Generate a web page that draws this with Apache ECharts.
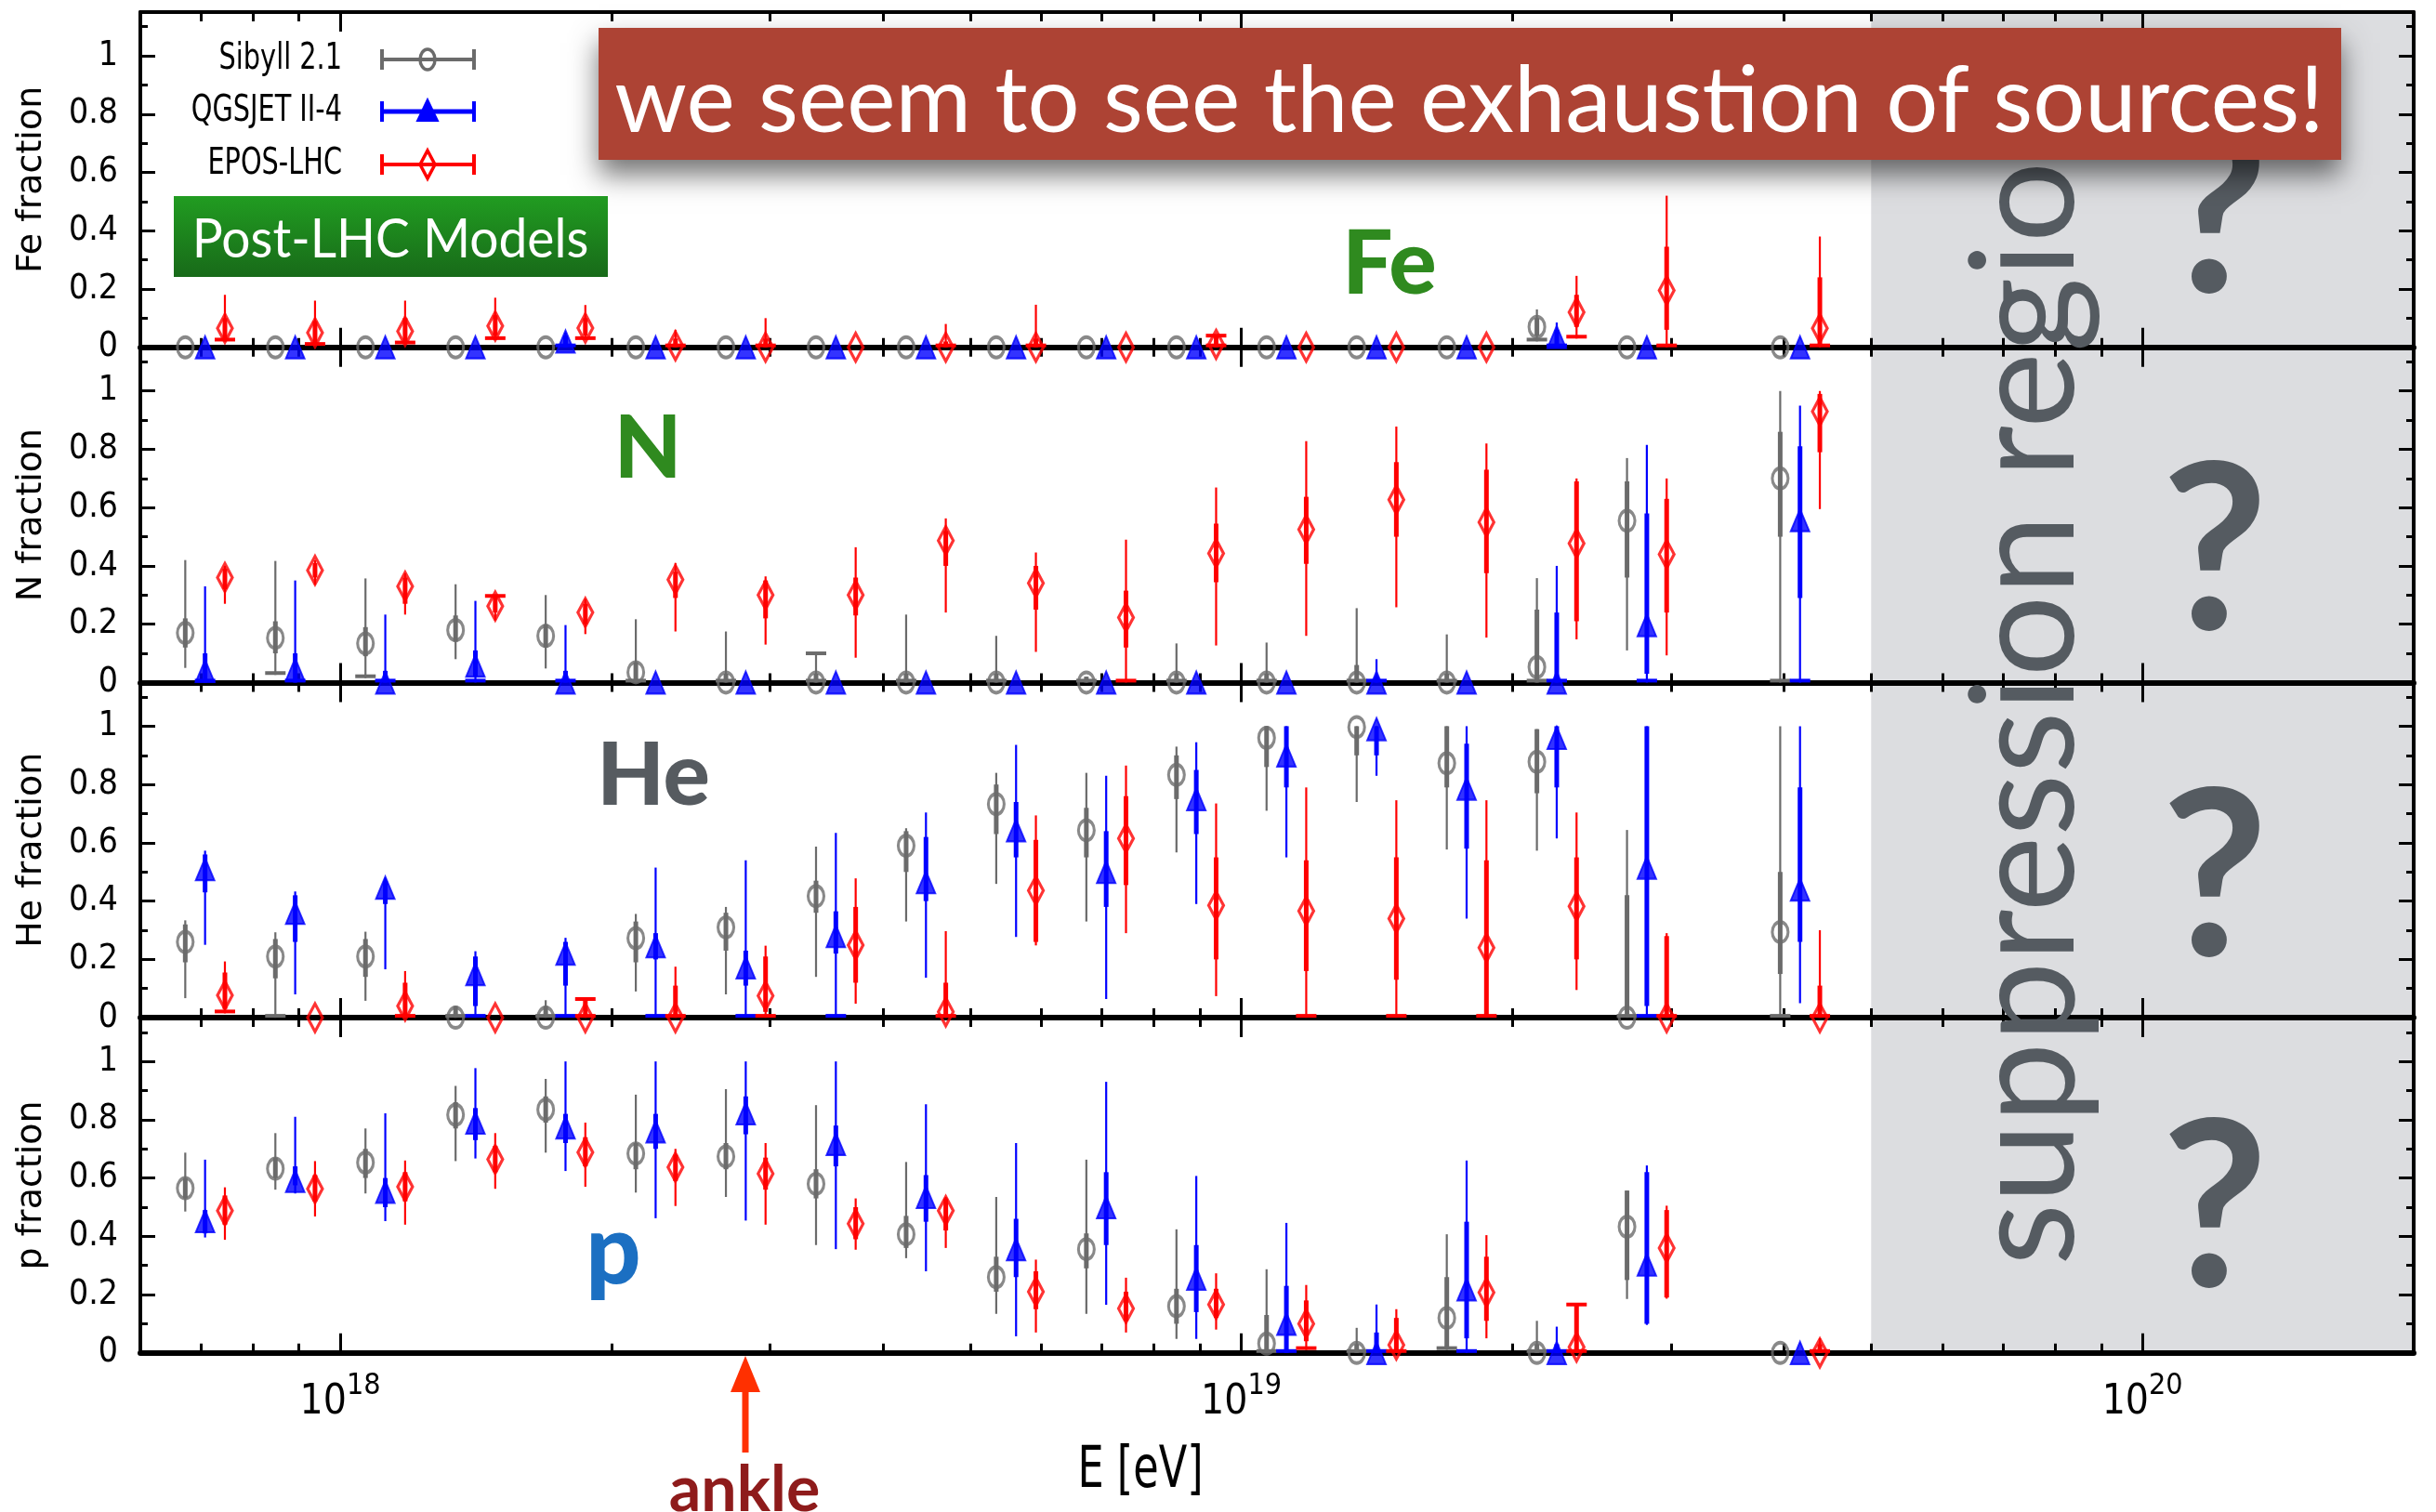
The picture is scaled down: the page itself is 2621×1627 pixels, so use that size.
<!DOCTYPE html>
<html>
<head>
<meta charset="utf-8">
<script src="https://cdn.jsdelivr.net/npm/echarts@6/dist/echarts.min.js"></script>
<style>
  html, body { margin: 0; padding: 0; background: #ffffff; }
  #chart { width: 2621px; height: 1627px; }
</style>
</head>
<body>
<div id="chart"></div>
<script>
// ---- energy bins: log10(E / eV) of each bin centre ----
const logE = [17.85, 17.95, 18.05, 18.15, 18.25, 18.35, 18.45, 18.55, 18.65,
              18.75, 18.85, 18.95, 19.05, 19.15, 19.25, 19.35, 19.45, 19.62];

const modelNames = ['Sibyll 2.1', 'QGSJET II-4', 'EPOS-LHC'];
const panelNames = ['Fe', 'N', 'He', 'p'];

// x tick labels (decades) and y ticks
const xDecades = [18, 19, 20];
const yMajor = [0, 0.2, 0.4, 0.6, 0.8, 1];
const yMinor = [0.1, 0.3, 0.5, 0.7, 0.9, 1.1];

// each point: [fraction, outer low, outer high, inner low, inner high]
const feSibyll = [
  [0,0,0,0,0],[0,0,0,0,0],[0,0,0,0,0],[0,0,0,0,0],[0,0,0,0,0],[0,0,0,0,0],
  [0,0,0,0,0],[0,0,0,0,0],[0,0,0,0,0],[0,0,0,0,0],[0,0,0,0,0],[0,0,0,0,0],
  [0,0,0,0,0],[0,0,0,0,0],[0,0,0,0,0],[0.07,0.02,0.13,0.04,0.10],[0,0,0,0,0],[0,0,0,0,0]
];
const feQgsjet = [
  [0,0,0,0,0],[0,0,0,0,0],[0,0,0,0,0],[0,0,0,0,0],[0.02,0,0.05,0,0.04],[0,0,0,0,0],
  [0,0,0,0,0],[0,0,0,0,0],[0,0,0,0,0],[0,0,0,0,0],[0,0,0,0,0],[0,0,0,0,0],
  [0,0,0,0,0],[0,0,0,0,0],[0,0,0,0,0],[0.035,0,0.085,0,0.06],[0,0,0,0,0],[0,0,0,0,0]
];
const feEpos = [
  [0.065,0.02,0.18,0.03,0.10],[0.05,0.005,0.16,0.01,0.09],[0.055,0.01,0.16,0.02,0.10],
  [0.073,0.025,0.17,0.04,0.11],[0.066,0.025,0.145,0.04,0.10],[0.005,0,0.06,0,0.03],
  [0,0,0.10,0,0.03],[0,0,0,0,0],[0,0,0.08,0,0.02],
  [0,0,0.146,0,0.03],[0,0,0,0,0],[0.01,0,0.04,0,0.04],
  [0,0,0,0,0],[0,0,0,0,0],[0,0,0,0,0],
  [0.12,0.03,0.245,0.07,0.18],[0.195,0,0.52,0.06,0.345],[0.065,0,0.38,0.01,0.24]
];

const nSibyll = [
  [0.17,0.05,0.42,0.12,0.22],[0.153,0.026,0.417,0.10,0.21],[0.134,0.015,0.357,0.09,0.19],
  [0.18,0.08,0.337,0.14,0.23],[0.16,0.048,0.30,0.12,0.20],[0.035,0,0.217,0,0.07],
  [0,0,0.175,0,0.03],[0,0,0.10,0,0.03],[0,0,0.233,0,0.03],
  [0,0,0.16,0,0.03],[0,0,0.02,0,0.02],[0,0,0.134,0,0.03],
  [0,0,0.137,0,0.03],[0,0,0.255,0,0.06],[0,0,0.165,0,0.03],
  [0.053,0,0.358,0,0.25],[0.555,0.11,0.77,0.36,0.69],[0.70,0,1.0,0.50,0.86]
];
const nQgsjet = [
  [0.04,0,0.33,0,0.10],[0.045,0,0.35,0,0.10],[0,0,0.233,0,0.04],
  [0.058,0,0.28,0.02,0.11],[0,0,0.197,0,0.04],[0,0,0,0,0],
  [0,0,0,0,0],[0,0,0,0,0],[0,0,0,0,0],
  [0,0,0,0,0],[0,0,0,0,0],[0,0,0,0,0],
  [0,0,0,0,0],[0,0,0.08,0,0.02],[0,0,0,0,0],
  [0,0,0.40,0,0.24],[0.197,0,0.815,0.03,0.58],[0.557,0,0.95,0.29,0.81]
];
const nEpos = [
  [0.36,0.27,0.40,0.32,0.39],[0.385,0.335,0.42,0.36,0.41],[0.33,0.233,0.375,0.27,0.36],
  [0.262,0.213,0.297,0.24,0.297],[0.24,0.166,0.287,0.20,0.27],[0.353,0.175,0.41,0.29,0.38],
  [0.30,0.13,0.364,0.22,0.35],[0.30,0.085,0.464,0.23,0.36],[0.487,0.24,0.563,0.40,0.52],
  [0.341,0.105,0.446,0.25,0.40],[0.223,0,0.49,0.12,0.315],[0.443,0.127,0.669,0.344,0.545],
  [0.525,0.16,0.828,0.407,0.637],[0.627,0.258,0.878,0.50,0.756],[0.55,0.154,0.82,0.375,0.73],
  [0.477,0.148,0.70,0.21,0.69],[0.44,0.093,0.70,0.24,0.63],[0.93,0.595,1.0,0.79,0.99]
];

const heSibyll = [
  [0.26,0.067,0.334,0.19,0.32],[0.21,0,0.293,0.135,0.27],[0.21,0.058,0.295,0.14,0.27],
  [0,0,0.04,0,0.04],[0,0,0.06,0,0.04],[0.273,0.09,0.356,0.19,0.33],
  [0.31,0.08,0.38,0.23,0.36],[0.417,0.14,0.587,0.36,0.47],[0.59,0.33,0.65,0.50,0.64],
  [0.733,0.459,0.84,0.63,0.80],[0.643,0.33,0.84,0.55,0.72],[0.833,0.567,0.93,0.75,0.90],
  [0.96,0.71,1.0,0.86,1.0],[0.997,0.74,1.0,0.90,1.0],[0.873,0.577,1.0,0.79,1.0],
  [0.878,0.573,0.99,0.77,0.99],[0,0,0.644,0,0.42],[0.294,0,1.0,0.15,0.50]
];
const heQgsjet = [
  [0.51,0.25,0.573,0.43,0.56],[0.36,0.08,0.433,0.26,0.42],[0.446,0.166,0.48,0.39,0.47],
  [0.15,0,0.228,0.04,0.21],[0.22,0,0.274,0.11,0.26],[0.245,0,0.515,0.20,0.29],
  [0.173,0,0.54,0.11,0.23],[0.28,0,0.634,0.22,0.365],[0.465,0.137,0.704,0.40,0.62],
  [0.643,0.277,0.936,0.55,0.74],[0.50,0.064,0.83,0.38,0.64],[0.75,0.39,0.945,0.63,0.85],
  [0.90,0.55,1.0,0.79,1.0],[0.99,0.83,1.0,0.90,1.0],[0.786,0.34,1.0,0.58,0.94],
  [0.96,0.615,1.0,0.79,1.0],[0.515,0,1.0,0.04,1.0],[0.44,0.05,1.0,0.26,0.79]
];
const heEpos = [
  [0.077,0.015,0.193,0.03,0.155],[0,0,0,0,0],[0.04,0,0.16,0,0.12],
  [0,0,0,0,0],[0,0,0.064,0,0.064],[0,0,0.175,0,0.11],
  [0.075,0,0.247,0.02,0.21],[0.249,0.048,0.478,0.12,0.38],[0.02,0,0.297,0,0.12],
  [0.436,0.248,0.694,0.26,0.61],[0.615,0.29,0.865,0.455,0.76],[0.385,0.074,0.735,0.20,0.55],
  [0.366,0,0.79,0.16,0.54],[0.34,0,0.746,0.13,0.55],[0.24,0,0.746,0,0.54],
  [0.382,0.095,0.704,0.20,0.55],[0,0,0.29,0,0.28],[0,0,0.30,0,0.11]
];

const pSibyll = [
  [0.565,0.485,0.687,0.53,0.60],[0.632,0.56,0.754,0.60,0.67],[0.653,0.547,0.77,0.60,0.70],
  [0.817,0.658,0.916,0.77,0.86],[0.835,0.687,0.94,0.79,0.88],[0.684,0.55,0.886,0.63,0.72],
  [0.674,0.535,0.905,0.63,0.72],[0.58,0.37,0.85,0.53,0.63],[0.407,0.325,0.655,0.36,0.47],
  [0.26,0.134,0.535,0.21,0.33],[0.356,0.134,0.663,0.29,0.41],[0.16,0.048,0.424,0.10,0.22],
  [0.032,0,0.287,0,0.13],[0,0,0.086,0,0.03],[0.12,0.01,0.407,0.02,0.26],
  [0,0,0.11,0,0.03],[0.433,0.185,0.557,0.25,0.557],[0,0,0,0,0]
];
const pQgsjet = [
  [0.452,0.396,0.663,0.41,0.49],[0.59,0.547,0.81,0.575,0.64],[0.553,0.452,0.822,0.50,0.60],
  [0.79,0.667,0.977,0.73,0.84],[0.774,0.624,1.0,0.72,0.82],[0.76,0.462,1.0,0.70,0.82],
  [0.822,0.454,1.0,0.75,0.88],[0.717,0.356,1.0,0.64,0.78],[0.535,0.28,0.853,0.45,0.61],
  [0.356,0.057,0.72,0.26,0.46],[0.50,0.165,0.93,0.37,0.62],[0.255,0.048,0.607,0.14,0.37],
  [0.10,0,0.446,0,0.23],[0,0,0.166,0,0.07],[0.218,0,0.66,0.05,0.45],
  [0,0,0.09,0,0.03],[0.303,0.096,0.643,0.10,0.62],[0,0,0,0,0]
];
const pEpos = [
  [0.488,0.388,0.568,0.44,0.54],[0.563,0.468,0.658,0.52,0.61],[0.57,0.44,0.66,0.52,0.62],
  [0.664,0.563,0.754,0.62,0.71],[0.688,0.57,0.79,0.64,0.74],[0.637,0.504,0.70,0.59,0.68],
  [0.615,0.44,0.72,0.56,0.67],[0.443,0.354,0.53,0.39,0.50],[0.488,0.36,0.535,0.42,0.53],
  [0.21,0.07,0.32,0.15,0.28],[0.152,0.07,0.258,0.11,0.21],[0.166,0.08,0.273,0.12,0.22],
  [0.10,0.01,0.233,0.04,0.18],[0.027,0,0.15,0,0.12],[0.207,0.05,0.404,0.11,0.33],
  [0.02,0,0.166,0,0.166],[0.36,0.186,0.505,0.19,0.49],[0,0,0.05,0,0.03]
];

// bins whose upper error bar ends in a cap, per panel and model
const upperCapBins = [
  [[], [], [11]],
  [[7], [], [3]],
  [[], [], [4]],
  [[], [], [15]]
];

const panelSeries = [
  [feSibyll, feQgsjet, feEpos],
  [nSibyll, nQgsjet, nEpos],
  [heSibyll, heQgsjet, heEpos],
  [pSibyll, pQgsjet, pEpos]
];

// ---- axis ranges ----
const XMIN = Math.log10(6e17);
const XMAX = Math.log10(2e20);
const XSUPPRESSION = Math.log10(5e19);
const YMAX = 1.15;

const xMinor = [];
for (let d = 17; d <= 20; d++) {
  for (let m = 2; m <= 9; m++) {
    const v = d + Math.log10(m);
    if (v > XMIN && v < XMAX) xMinor.push(v);
  }
}

// ---- look ----
const NARROW = "'Liberation Sans Narrow','DejaVu Sans Condensed','Roboto Condensed',sans-serif";
const HUMANIST = "Lato,'Open Sans','Noto Sans',sans-serif";
const MODEL_COLORS = ['#6b6b6b', '#0000ff', '#ff0000'];
const MODEL_SHIFT = [-0.022, 0, 0.022];   // side-by-side placement inside a bin (decades)
const SLATE = '#555b61';

const GRID_LEFT = 151, GRID_WIDTH = 2446, GRID_TOP = 13, PANEL_H = 360.7;

const grids = [], xAxes = [], yAxes = [], series = [];

function tick(len, values, show) {
  return { show: show !== false, inside: true, length: len, customValues: values,
           lineStyle: { color: '#000', width: 3 } };
}

panelNames.forEach((name, i) => {
  grids.push({ left: GRID_LEFT, width: GRID_WIDTH, top: GRID_TOP + i * PANEL_H, height: PANEL_H });

  const xBase = { type: 'value', gridIndex: i, min: XMIN, max: XMAX,
                  splitLine: { show: false }, axisLabel: { show: false },
                  axisLine: { show: false, onZero: false } };
  xAxes.push(Object.assign({}, xBase, {
    position: 'bottom',
    axisLine: { show: true, onZero: false, lineStyle: { color: '#000', width: 6 } },
    axisTick: tick(21, xDecades),
    axisLabel: i === 3 ? {
      show: true, customValues: xDecades, margin: 20,
      formatter: v => '{b|10}{s|' + Math.round(v) + '}',
      rich: {
        b: { fontFamily: NARROW, fontSize: 44, color: '#000', lineHeight: 56, verticalAlign: 'bottom' },
        s: { fontFamily: NARROW, fontSize: 32, color: '#000', lineHeight: 56, verticalAlign: 'top' }
      }
    } : { show: false }
  }));
  xAxes.push(Object.assign({}, xBase, { position: 'bottom', axisTick: tick(10, xMinor) }));
  xAxes.push(Object.assign({}, xBase, {
    position: 'top',
    axisLine: { show: i === 0, onZero: false, lineStyle: { color: '#000', width: 4 } },
    axisTick: tick(21, xDecades)
  }));
  xAxes.push(Object.assign({}, xBase, { position: 'top', axisTick: tick(10, xMinor) }));

  const yBase = { type: 'value', gridIndex: i, min: 0, max: YMAX,
                  splitLine: { show: false }, axisLabel: { show: false },
                  axisLine: { show: false, onZero: false } };
  yAxes.push(Object.assign({}, yBase, {
    position: 'left',
    axisLine: { show: true, onZero: false, lineStyle: { color: '#000', width: 4 } },
    axisTick: tick(16, yMajor),
    axisLabel: { show: true, customValues: yMajor, margin: 24,
                 formatter: v => String(Math.round(v * 10) / 10),
                 fontFamily: NARROW, fontSize: 37, color: '#000' },
    name: name + ' fraction', nameLocation: 'middle', nameGap: 98,
    nameTextStyle: { fontFamily: "'DejaVu Sans',sans-serif", fontSize: 38, color: '#000' }
  }));
  yAxes.push(Object.assign({}, yBase, { position: 'left', axisTick: tick(8, yMinor) }));
  yAxes.push(Object.assign({}, yBase, {
    position: 'right',
    axisLine: { show: true, onZero: false, lineStyle: { color: '#000', width: 4 } },
    axisTick: tick(16, yMajor)
  }));
  yAxes.push(Object.assign({}, yBase, { position: 'right', axisTick: tick(8, yMinor) }));

  const xi = 4 * i, yi = 4 * i;

  // shaded suppression region, beneath the axes
  series.push({
    type: 'custom', xAxisIndex: xi, yAxisIndex: yi, z: -1, silent: true,
    data: [[XSUPPRESSION, 0]],
    renderItem: (params, api) => {
      const a = api.coord([XSUPPRESSION, YMAX]);
      const b = api.coord([XMAX, 0]);
      return { type: 'rect', shape: { x: a[0], y: a[1], width: b[0] - a[0], height: b[1] - a[1] },
               style: { fill: '#dcdde0' } };
    }
  });

  panelSeries[i].forEach((points, m) => {
    const color = MODEL_COLORS[m];
    const caps = upperCapBins[i][m];
    const barData = points.map((p, k) => [logE[k] + MODEL_SHIFT[m], p[0], p[1], p[2], p[3], p[4],
                                          caps.indexOf(k) >= 0 ? 1 : 0]);
    series.push({
      type: 'custom', name: modelNames[m], xAxisIndex: xi, yAxisIndex: yi, silent: true, z: 2,
      data: barData,
      renderItem: (params, api) => {
        const x = api.value(0), lo = api.value(2), hi = api.value(3);
        const ilo = api.value(4), ihi = api.value(5), capTop = api.value(6);
        const kids = [];
        const capHalf = 11;
        if (hi > lo) {
          const a = api.coord([x, lo]), b = api.coord([x, hi]);
          kids.push({ type: 'line', shape: { x1: a[0], y1: a[1], x2: b[0], y2: b[1] },
                      style: { stroke: color, lineWidth: 2.2 } });
          if (lo <= 0.03) {
            kids.push({ type: 'line', shape: { x1: a[0] - capHalf, y1: a[1] - 2, x2: a[0] + capHalf, y2: a[1] - 2 },
                        style: { stroke: color, lineWidth: 4 } });
          }
          if (capTop) {
            kids.push({ type: 'line', shape: { x1: b[0] - capHalf, y1: b[1], x2: b[0] + capHalf, y2: b[1] },
                        style: { stroke: color, lineWidth: 4 } });
          }
        }
        if (ihi > ilo) {
          const a = api.coord([x, ilo]), b = api.coord([x, ihi]);
          kids.push({ type: 'line', shape: { x1: a[0], y1: a[1], x2: b[0], y2: b[1] },
                      style: { stroke: color, lineWidth: 5 } });
        }
        return { type: 'group', children: kids };
      }
    });

    const markerStyle = [
      { symbol: 'circle', symbolSize: [17, 22],
        itemStyle: { color: 'rgba(0,0,0,0)', borderColor: color, borderWidth: 3.5 } },
      { symbol: 'triangle', symbolSize: [20, 24],
        itemStyle: { color: color, borderColor: color, borderWidth: 2 } },
      { symbol: 'diamond', symbolSize: [16, 30],
        itemStyle: { color: 'rgba(0,0,0,0)', borderColor: color, borderWidth: 3.5 } }
    ][m];
    series.push(Object.assign({
      type: 'scatter', name: modelNames[m], xAxisIndex: xi, yAxisIndex: yi, z: 3, clip: false,
      silent: true, emphasis: { disabled: true },
      data: points.map((p, k) => [logE[k] + MODEL_SHIFT[m], p[0]])
    }, markerStyle));
  });
});

// ---- overlay texts and shapes ----
const graphics = [];

// legend: text on the left, error-bar glyph on the right
const legendRows = [64, 120, 177];
modelNames.forEach((label, m) => {
  const y = legendRows[m], c = MODEL_COLORS[m];
  graphics.push({ type: 'text', x: 368, y: y, z: 5, scaleX: 0.82,
    style: { text: label, font: '39px ' + NARROW, fill: '#000', align: 'right', verticalAlign: 'middle' } });
  const lw = m === 1 ? 5 : 4;
  graphics.push({ type: 'line', z: 5, shape: { x1: 411, y1: y, x2: 510, y2: y }, style: { stroke: c, lineWidth: lw } });
  graphics.push({ type: 'line', z: 5, shape: { x1: 411, y1: y - 11, x2: 411, y2: y + 11 }, style: { stroke: c, lineWidth: 4 } });
  graphics.push({ type: 'line', z: 5, shape: { x1: 510, y1: y - 11, x2: 510, y2: y + 11 }, style: { stroke: c, lineWidth: 4 } });
  if (m === 0) {
    graphics.push({ type: 'ellipse', z: 6, shape: { cx: 460, cy: y, rx: 8, ry: 11 },
      style: { fill: 'none', stroke: c, lineWidth: 3.5 } });
  } else if (m === 1) {
    graphics.push({ type: 'polygon', z: 6, shape: { points: [[460, y - 13], [449, y + 10], [471, y + 10]] },
      style: { fill: c, stroke: c, lineWidth: 2 } });
  } else {
    graphics.push({ type: 'polygon', z: 6, shape: { points: [[460, y - 15], [468, y], [460, y + 15], [452, y]] },
      style: { fill: 'none', stroke: c, lineWidth: 3.5 } });
  }
});

// "Post-LHC Models" tag
graphics.push({ type: 'rect', z: 5, shape: { x: 187, y: 211, width: 467, height: 87 },
  style: { fill: new echarts.graphic.LinearGradient(0, 0, 0, 1,
            [{ offset: 0, color: '#219c21' }, { offset: 1, color: '#186a19' }]) } });
graphics.push({ type: 'text', x: 420, y: 258, z: 6, scaleX: 0.95,
  style: { text: 'Post-LHC Models', font: '58px ' + HUMANIST, fill: '#ffffff',
           align: 'center', verticalAlign: 'middle',
           shadowBlur: 4, shadowColor: 'rgba(0,0,0,0.6)', shadowOffsetY: 2 } });

// element labels inside each panel
const elementLabels = [
  { t: 'Fe', x: 1495, y: 285, c: '#2f8a1f', s: 96 },
  { t: 'N',  x: 697,  y: 484, c: '#2f8a1f', s: 94 },
  { t: 'He', x: 703,  y: 836, c: '#565b60', s: 94 },
  { t: 'p',  x: 660,  y: 1348, c: '#1b6fc2', s: 104 }
];
elementLabels.forEach(e => graphics.push({ type: 'text', x: e.x, y: e.y, z: 4,
  style: { text: e.t, font: '900 ' + e.s + 'px ' + HUMANIST, fill: e.c, align: 'center', verticalAlign: 'middle' } }));

// suppression region annotations
graphics.push({ type: 'text', x: 2181, y: 1362, rotation: Math.PI / 2, z: 4,
  style: { text: 'suppression region', font: '155px ' + HUMANIST, fill: SLATE,
           align: 'left', verticalAlign: 'middle' } });
[233, 596, 947, 1303].forEach(y => graphics.push({ type: 'text', x: 2383, y: y, z: 4,
  style: { text: '?', font: 'bold 250px ' + HUMANIST, fill: SLATE, align: 'center', verticalAlign: 'middle' } }));

// headline banner
graphics.push({ type: 'rect', z: 10, shape: { x: 644, y: 30, width: 1875, height: 142 },
  style: { fill: '#ad4334', shadowBlur: 28, shadowColor: 'rgba(0,0,0,0.55)', shadowOffsetY: 16 } });
graphics.push({ type: 'text', x: 1581, y: 110, z: 11,
  style: { text: 'we seem to see the exhaustion of sources!', font: '99px ' + HUMANIST, fill: '#ffffff',
           align: 'center', verticalAlign: 'middle',
           shadowBlur: 4, shadowColor: 'rgba(60,0,0,0.7)', shadowOffsetY: 3 } });

// x axis title
graphics.push({ type: 'text', x: 1227, y: 1584, z: 4, scaleX: 0.8,
  style: { text: 'E [eV]', font: '62px ' + NARROW, fill: '#000', align: 'center', verticalAlign: 'middle' } });

// ankle marker
graphics.push({ type: 'line', z: 4, shape: { x1: 802, y1: 1490, x2: 802, y2: 1563 },
  style: { stroke: '#ff3000', lineWidth: 7 } });
graphics.push({ type: 'polygon', z: 4, shape: { points: [[802, 1459], [786, 1498], [818, 1498]] },
  style: { fill: '#ff3000' } });
graphics.push({ type: 'text', x: 801, y: 1604, z: 4,
  style: { text: 'ankle', font: 'bold 68px ' + HUMANIST, fill: '#8e1b1b', align: 'center', verticalAlign: 'middle' } });

const chart = echarts.init(document.getElementById('chart'), null, { width: 2621, height: 1627, renderer: 'canvas' });
chart.setOption({
  animation: false,
  backgroundColor: '#ffffff',
  grid: grids,
  xAxis: xAxes,
  yAxis: yAxes,
  series: series,
  graphic: { elements: graphics }
});
</script>
</body>
</html>
